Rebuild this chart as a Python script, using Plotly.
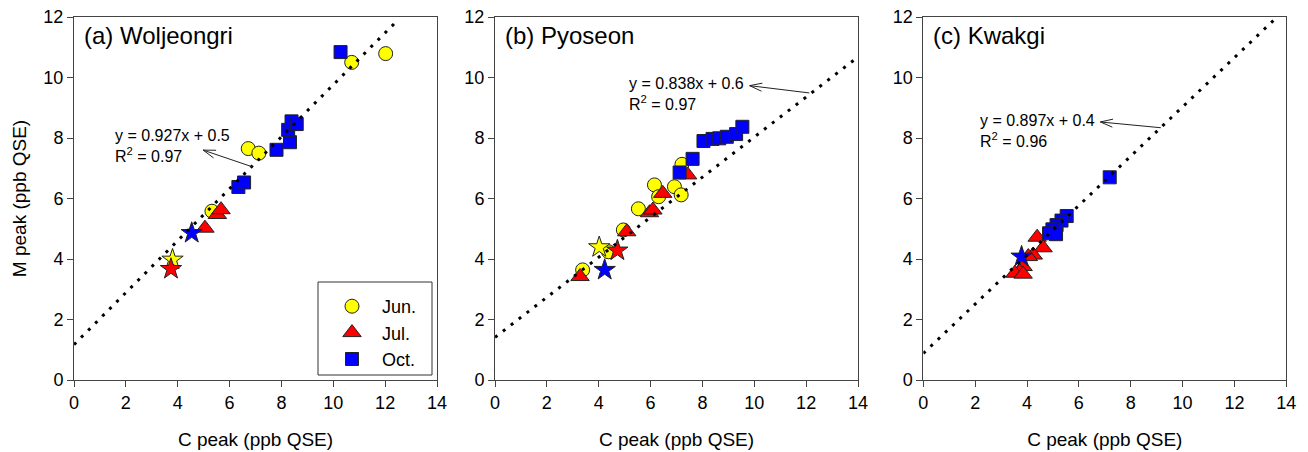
import numpy as np
import plotly.graph_objects as go

# page is rendered with an 8px body margin, so the figure is 8px smaller
OFF = 8
W, H = 1308 - OFF, 452 - OFF

# ---------------- data ----------------
# Panel (a) Woljeongri
jun_a_x = [6.72, 7.13, 10.71, 12.02, 5.32]
jun_a_y = [7.65, 7.50, 10.50, 10.79, 5.58]
jul_a_x = [5.05, 5.53, 5.67]
jul_a_y = [5.02, 5.47, 5.63]
oct_a_x = [10.28, 7.81, 8.33, 8.26, 8.39, 8.59, 6.34, 6.56]
oct_a_y = [10.84, 7.61, 7.86, 8.27, 8.55, 8.46, 6.38, 6.53]
star_a_x = [3.80, 3.74, 4.54]
star_a_y = [3.98, 3.67, 4.86]

# Panel (b) Pyoseon
jun_b_x = [3.38, 4.38, 4.95, 5.53, 6.15, 6.31, 6.92, 7.18, 7.21]
jun_b_y = [3.64, 4.24, 4.96, 5.66, 6.45, 6.06, 6.39, 6.12, 7.13]
jul_b_x = [3.28, 5.08, 5.96, 6.09, 6.47, 7.43]
jul_b_y = [3.42, 4.90, 5.53, 5.62, 6.17, 6.78]
oct_b_x = [7.12, 7.62, 8.04, 8.39, 8.65, 8.94, 9.30, 9.54]
oct_b_y = [6.86, 7.31, 7.90, 7.97, 7.99, 8.04, 8.13, 8.37]
star_b_x = [4.02, 4.72, 4.23]
star_b_y = [4.39, 4.28, 3.64]

# Panel (c) Kwakgi
jul_c_x = [4.39, 4.62, 4.24, 4.05, 3.85, 3.72, 3.53, 3.85]
jul_c_y = [4.72, 4.37, 4.13, 4.08, 3.75, 3.58, 3.53, 3.50]
oct_c_x = [5.53, 5.33, 5.14, 4.98, 4.85, 5.12, 7.19]
oct_c_y = [5.42, 5.27, 5.12, 4.98, 4.85, 4.82, 6.70]
star_c_x = [3.79]
star_c_y = [4.08]

# dotted fit lines: intercept, slope, end x
line_intercepts = [1.17, 1.41, 0.88]
line_slopes = [0.859, 0.662, 0.815]
line_xend = [12.4, 13.94, 13.6]

panel_titles = ["(a) Woljeongri", "(b) Pyoseon", "(c) Kwakgi"]
eq_texts = ["y = 0.927x + 0.5<br>R<sup>2</sup> = 0.97",
            "y = 0.838x + 0.6<br>R<sup>2</sup> = 0.97",
            "y = 0.897x + 0.4<br>R<sup>2</sup> = 0.96"]
eq_pos = [(1.52, 7.72), (5.08, 9.44), (2.12, 8.23)]
arrow_tail = [(6.87, 7.05), (12.12, 9.49), (9.16, 8.34)]
arrow_head = [(4.98, 7.60), (9.82, 9.73), (6.83, 8.53)]

month_names = ["Jun.", "Jul.", "Oct."]
month_colors = ["#FFFF00", "#FF0000", "#0000FF"]
month_symbols = ["circle", "triangle-up", "square"]

x_ticks = [0, 2, 4, 6, 8, 10, 12, 14]
y_ticks = [0, 2, 4, 6, 8, 10, 12]

# ---------------- layout geometry (page pixels) ----------------
px_left = [74, 495, 923.3]
px_w = 363
px_top, px_bot = 17, 380


def fx(p):
    return (p - OFF) / W


def fy(p):
    return 1 - (p - OFF) / H


FONT = "Liberation Sans, Arial, sans-serif"
AX = "#444444"
PAD = "\u00a0" * 2

fig = go.Figure()

panels = [
    (jun_a_x, jun_a_y, jul_a_x, jul_a_y, oct_a_x, oct_a_y, star_a_x, star_a_y),
    (jun_b_x, jun_b_y, jul_b_x, jul_b_y, oct_b_x, oct_b_y, star_b_x, star_b_y),
    ([], [], jul_c_x, jul_c_y, oct_c_x, oct_c_y, star_c_x, star_c_y),
]
star_colors = [month_colors, month_colors, [month_colors[2]]]

for i, p in enumerate(panels):
    xa = "x" if i == 0 else f"x{i+1}"
    ya = "y" if i == 0 else f"y{i+1}"
    series = [(p[0], p[1]), (p[2], p[3]), (p[4], p[5])]
    for m, (sx, sy) in enumerate(series):
        fig.add_trace(go.Scatter(
            x=sx, y=sy, mode="markers", xaxis=xa, yaxis=ya,
            name=PAD + month_names[m], showlegend=(i == 0), legendrank=m,
            marker=dict(symbol=month_symbols[m], color=month_colors[m],
                        size=[14, 16, 13][m],
                        line=dict(color="#222222", width=1)),
        ))
    fig.add_trace(go.Scatter(
        x=p[6], y=p[7], mode="markers", xaxis=xa, yaxis=ya, showlegend=False,
        marker=dict(symbol="star", color=star_colors[i], size=16,
                    line=dict(color="#222222", width=1)),
    ))
    lx = np.array([0.0, line_xend[i]])
    ly = line_intercepts[i] + line_slopes[i] * lx
    fig.add_trace(go.Scatter(
        x=lx, y=ly, mode="lines", xaxis=xa, yaxis=ya, showlegend=False,
        line=dict(color="black", width=3, dash="3px,7px"),
    ))

# axes
for i in range(3):
    sfx = "" if i == 0 else str(i + 1)
    dom_x = [fx(px_left[i]), fx(px_left[i] + px_w)]
    dom_y = [fy(px_bot), fy(px_top)]
    ydict = dict(
        domain=dom_y, range=[0, 12], tickvals=y_ticks, anchor=f"x{sfx}",
        automargin=False, ticklabeloverflow="allow",
        showgrid=False, zeroline=False, showline=True, linecolor=AX,
        linewidth=1, mirror=True, ticks="outside", ticklen=6,
        tickcolor=AX, tickfont=dict(size=18, color="black", family=FONT),
    )
    if i == 0:
        ydict["title"] = dict(text="M peak (ppb QSE)", standoff=11,
                              font=dict(size=19, color="black", family=FONT))
    fig.update_layout(**{
        f"xaxis{sfx}": dict(
            domain=dom_x, range=[0, 14], tickvals=x_ticks, anchor=f"y{sfx}",
            automargin=False, ticklabeloverflow="allow",
            showgrid=False, zeroline=False, showline=True, linecolor=AX,
            linewidth=1, mirror=True, ticks="outside", ticklen=6,
            tickcolor=AX, tickfont=dict(size=18, color="black", family=FONT),
            title=dict(text="C peak (ppb QSE)", standoff=21,
                       font=dict(size=19, color="black", family=FONT)),
        ),
        f"yaxis{sfx}": ydict,
    })

annotations = []
shapes = []
sxp = px_w / 14.0
syp = (px_bot - px_top) / 12.0
for i in range(3):
    xr = "x" if i == 0 else f"x{i+1}"
    yr = "y" if i == 0 else f"y{i+1}"
    annotations.append(dict(
        x=0.3, y=11.4, xref=xr, yref=yr, text=panel_titles[i], showarrow=False,
        xanchor="left", yanchor="middle",
        font=dict(size=24, color="black", family=FONT)))
    annotations.append(dict(
        x=eq_pos[i][0], y=eq_pos[i][1], xref=xr, yref=yr, text=eq_texts[i],
        showarrow=False, xanchor="left", yanchor="middle", align="left",
        font=dict(size=16, color="black", family=FONT)))
    # arrow: line from tail to head, open V head
    tx, ty = arrow_tail[i]
    hx, hy = arrow_head[i]
    shapes.append(dict(type="line", xref=xr, yref=yr, x0=tx, y0=ty, x1=hx, y1=hy,
                       line=dict(color="#222222", width=1)))
    d = np.array([(hx - tx) * sxp, (hy - ty) * syp])
    d = d / np.linalg.norm(d)
    for ang in (np.radians(18), -np.radians(18)):
        rot = np.array([[np.cos(ang), -np.sin(ang)], [np.sin(ang), np.cos(ang)]])
        b = rot @ d * 13
        shapes.append(dict(type="line", xref=xr, yref=yr, x0=hx, y0=hy,
                           x1=hx - b[0] / sxp, y1=hy - b[1] / syp,
                           line=dict(color="#222222", width=1)))

# legend box
shapes.append(dict(type="rect", xref="paper", yref="paper",
                   x0=fx(318), x1=fx(432), y0=fy(375), y1=fy(282),
                   line=dict(color="#333333", width=1), fillcolor="rgba(0,0,0,0)"))

fig.update_layout(
    width=W, height=H,
    margin=dict(l=0, r=0, t=0, b=0),
    paper_bgcolor="white", plot_bgcolor="white",
    font=dict(family=FONT, color="black"),
    annotations=annotations, shapes=shapes,
    legend=dict(x=fx(332), y=fy(288), xanchor="left", yanchor="top",
                bgcolor="rgba(0,0,0,0)", borderwidth=0,
                font=dict(size=18, color="black", family=FONT),
                itemsizing="trace", itemwidth=30, tracegroupgap=0),
)

fig.write_html("out.html")
